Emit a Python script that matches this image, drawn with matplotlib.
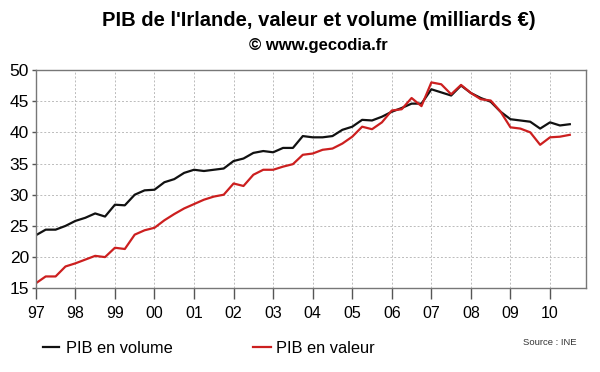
import matplotlib
matplotlib.use("Agg")
import matplotlib.pyplot as plt
from matplotlib.lines import Line2D
import numpy as np

plt.rcParams['font.family'] = ['Liberation Sans', 'DejaVu Sans']

start_year = 1997
volume = [23.5, 24.4, 24.4, 25.0, 25.8, 26.3, 27.0, 26.5, 28.4, 28.3, 30.0, 30.7,
          30.8, 32.0, 32.5, 33.5, 34.0, 33.8, 34.0, 34.2, 35.4, 35.8, 36.7, 37.0,
          36.8, 37.5, 37.5, 39.4, 39.2, 39.2, 39.4, 40.4, 40.9, 42.0, 41.9, 42.5,
          43.3, 43.9, 44.6, 44.6, 46.9, 46.4, 45.9, 47.5, 46.3, 45.5, 44.9, 43.3,
          42.1, 41.9, 41.7, 40.6, 41.6, 41.1, 41.3]
valeur = [15.8, 16.9, 16.9, 18.5, 19.0, 19.6, 20.2, 20.0, 21.5, 21.3, 23.6, 24.3,
          24.7, 25.9, 26.9, 27.8, 28.5, 29.2, 29.7, 30.0, 31.8, 31.4, 33.2, 34.0,
          34.0, 34.5, 34.9, 36.4, 36.6, 37.2, 37.4, 38.2, 39.3, 40.9, 40.5, 41.6,
          43.5, 43.7, 45.5, 44.2, 48.0, 47.7, 46.1, 47.6, 46.3, 45.3, 45.1, 43.3,
          40.8, 40.6, 40.0, 38.0, 39.2, 39.3, 39.6]
tick_years = list(range(1997, 2011))
tick_labels = ['97', '98', '99', '00', '01', '02', '03', '04', '05', '06', '07', '08', '09', '10']
yticks = [15, 20, 25, 30, 35, 40, 45, 50]

x = start_year + np.arange(len(volume)) * 0.25

fig = plt.figure(figsize=(6, 3.72), dpi=100)
ax = fig.add_axes([0.0597, 0.225, 0.917, 0.587])
l1, = ax.plot(x, volume, color='#111111', lw=1.6, label='PIB en volume')
l2, = ax.plot(x, valeur, color='#cc1f1f', lw=1.6, label='PIB en valeur')
ax.set_xlim(1997, 2010.91)
ax.set_ylim(15, 50)
ax.set_xticks(tick_years)
ax.set_xticklabels(tick_labels)
ax.set_yticks(yticks)
ax.grid(True, color='#bbbbbb', linestyle=(0, (2, 2)), lw=0.7)
for s in ax.spines.values():
    s.set_color('#777777')
    s.set_linewidth(1.0)
ax.tick_params(axis='x', direction='out', length=8, width=1, color='#555555',
               labelsize=11.5, pad=5)
ax.tick_params(axis='y', direction='out', length=3, width=1, color='#555555',
               labelsize=12.5, pad=2)

fig.text(0.532, 0.946, "PIB de l'Irlande, valeur et volume (milliards €)",
         ha='center', va='center', fontsize=14.5, fontweight='bold')
fig.text(0.53, 0.879, "© www.gecodia.fr", ha='center', va='center',
         fontsize=12, fontweight='bold')

leg1 = fig.legend(handles=[l1], loc='center left', bbox_to_anchor=(43 / 600, 0.064),
                  frameon=False, fontsize=11.8, handlelength=1.0, handletextpad=0.4,
                  borderpad=0, borderaxespad=0)
leg2 = fig.legend(handles=[l2], loc='center left', bbox_to_anchor=(253 / 600, 0.064),
                  frameon=False, fontsize=11.8, handlelength=1.1, handletextpad=0.3,
                  borderpad=0, borderaxespad=0)
fig.text(523 / 600, 0.078, "Source : INE", ha='left', va='center', fontsize=6.8, color='#333333')

fig.savefig('out.png', dpi=100)
